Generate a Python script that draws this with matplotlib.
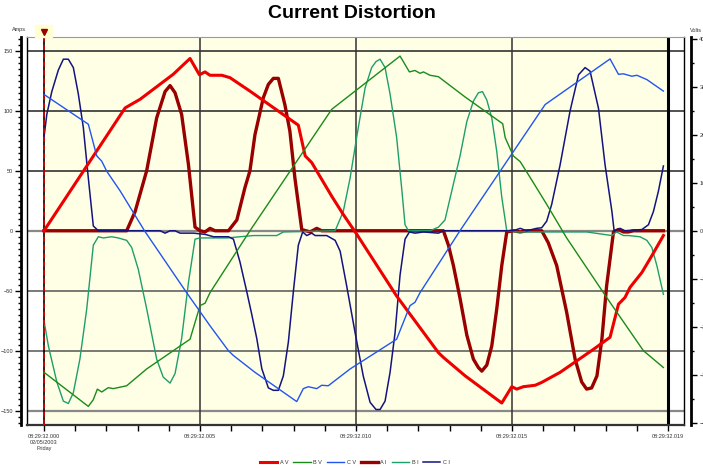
import matplotlib
matplotlib.use("Agg")
import matplotlib.pyplot as plt
import matplotlib.transforms as mtransforms
from matplotlib.patches import Rectangle

plt.rcParams["font.family"] = ["Liberation Sans", "DejaVu Sans"]

# time in ms after 08:29:32.000, voltages in volts (right axis)
t_av = [0, 1.26, 2.60, 3.08, 4.14, 4.68, 4.98, 5.16, 5.32, 5.70, 5.96, 6.60, 8.15, 8.37, 8.58, 8.90,
        9.22, 9.59, 10.02, 11.30, 12.64, 12.80, 13.49, 14.67, 14.99, 15.15, 15.36, 15.74, 15.95,
        16.54, 17.61, 18.14, 18.41, 18.62, 18.78, 19.16, 19.48, 19.85]
v_av = [0, 124, 256, 274, 326, 359, 325, 331, 324, 324, 319, 291, 220, 156, 142, 107,
        72, 34, -7, -136, -254, -264, -302, -359, -325, -330, -325, -322, -316,
        -295, -247, -222, -153, -139, -118, -87, -52, -10]

t_bv = [0, 1.42, 1.58, 1.71, 1.85, 2.06, 2.22, 2.65, 3.29, 4.68, 5.00, 5.16, 5.32, 6.60, 9.22,
        11.41, 11.71, 11.89, 12.05, 12.16, 12.37, 12.64, 13.49, 14.70, 14.78, 15.04, 15.26,
        15.58, 16.11, 16.75, 18.03, 19.21, 19.85]
v_bv = [-295, -366, -352, -330, -336, -327, -329, -323, -288, -226, -156, -151, -129, 0, 253,
        364, 331, 334, 328, 331, 324, 321, 279, 223, 194, 156, 144,
        111, 55, -15, -139, -250, -285]

t_cv = [0, 1.42, 1.69, 1.85, 2.01, 2.44, 3.22, 4.57, 5.32, 5.91, 6.07, 6.76, 8.10, 8.31, 8.47,
        8.74, 8.90, 9.11, 9.81, 11.30, 11.73, 11.89, 12.05, 13.33, 16.06, 18.14, 18.41, 18.57,
        18.84, 19.00, 19.32, 19.85]
v_cv = [284, 222, 156, 145, 124, 83, 0, -129, -198, -250, -260, -295, -356, -329, -325,
        -329, -322, -323, -288, -226, -156, -149, -129, 0, 263, 358, 326, 327,
        322, 324, 315, 291]

# currents in amps (left axis)
t_ai = [0, 2.65, 2.92, 3.29, 3.61, 3.88, 4.04, 4.20, 4.41, 4.63, 4.84, 5.00, 5.16, 5.32, 5.48,
        5.91, 6.18, 6.44, 6.60, 6.76, 7.03, 7.19, 7.35, 7.51, 7.72, 7.88, 8.04, 8.26, 8.53, 8.74,
        8.90, 12.80, 12.96, 13.12, 13.33, 13.55, 13.76, 13.92, 14.03, 14.19, 14.35, 14.51, 14.67,
        14.83, 15.04, 15.26, 15.47, 15.95, 16.16, 16.43, 16.75, 17.02, 17.23, 17.39, 17.55, 17.72,
        17.88, 18.03, 18.25, 18.41, 18.57, 18.73, 18.89, 19.85]
i_ai = [0, 0, 16, 50, 94, 116, 121, 115, 97, 55, 3, 0, -1, 2, 0,
        0, 9, 36, 50, 80, 111, 122, 127, 127, 105, 83, 44, 1, -1, 2,
        0, 0, -12, -29, -56, -87, -107, -114, -117, -112, -96, -65, -29,
        -1, 0, -1, 0, 0, -10, -29, -68, -107, -126, -132, -131, -121,
        -90, -46, -1, 1, -1, -1, 0, 0]

t_bi = [0, 0.14, 0.41, 0.62, 0.78, 0.94, 1.15, 1.37, 1.58, 1.74, 1.90, 2.17, 2.38, 2.65, 2.81,
        3.02, 3.29, 3.61, 3.82, 4.04, 4.20, 4.41, 4.63, 4.84, 5.00, 5.21, 5.43, 5.86, 6.71, 7.46,
        7.67, 9.33, 9.59, 9.81, 10.02, 10.29, 10.50, 10.64, 10.77, 10.93, 11.09, 11.30, 11.46,
        11.57, 11.68, 12.37, 12.64, 12.85, 13.12, 13.33, 13.55, 13.76, 13.92, 14.05, 14.19, 14.35,
        14.51, 14.67, 14.83, 15.15, 17.39, 18.20, 18.35, 18.57, 18.73, 19.10, 19.32, 19.48,
        19.64, 19.85]
i_bi = [-75, -96, -126, -142, -144, -135, -107, -65, -12, -5, -6, -5, -6, -8, -14,
        -32, -65, -107, -122, -127, -119, -90, -43, -7, -6, -6, -6, -6, -4, -4,
        -1, 0, 16, 44, 78, 119, 136, 141, 143, 136, 114, 78, 36,
        5, 0, 0, 3, 9, 39, 62, 91, 108, 115, 116, 109, 94,
        66, 28, 0, -1, -1, -4, -1, -4, -4, -5, -8, -14,
        -29, -53]

t_ci = [0, 0.09, 0.25, 0.46, 0.62, 0.78, 0.94, 1.10, 1.26, 1.42, 1.58, 1.74, 3.72, 3.88, 4.04,
        4.20, 4.36, 4.79, 5.16, 5.43, 5.91, 6.07, 6.28, 6.50, 6.66, 6.82, 6.98, 7.19, 7.35, 7.51,
        7.67, 7.83, 7.99, 8.15, 8.29, 8.42, 8.58, 8.69, 9.06, 9.33, 9.49, 9.70, 9.97, 10.23, 10.45,
        10.64, 10.77, 10.93, 11.09, 11.25, 11.41, 11.57, 11.71, 11.89, 12.16, 12.64, 12.80, 15.04,
        15.26, 15.47, 15.79, 15.95, 16.11, 16.27, 16.54, 16.86, 17.13, 17.34, 17.50, 17.77, 17.98,
        18.20, 18.27, 18.46, 18.62, 19.16, 19.37, 19.53, 19.69, 19.85]
i_ci = [78, 97, 116, 134, 143, 143, 136, 114, 86, 44, 4, 0, 0, -2, 0,
        0, -2, -2, -3, -5, -5, -7, -26, -51, -70, -90, -115, -131, -133, -133,
        -121, -93, -51, -12, -1, -4, -2, -4, -4, -8, -17, -46, -85, -121, -143,
        -149, -149, -142, -118, -85, -37, -7, -1, -2, -1, -2, 0, 0,
        2, 0, 2, 2.5, 8, 22, 55, 100, 130, 136, 133, 102, 55,
        16, 0, 2, 0, 1, 5, 16, 33, 54]

x_ticks = [0, 5, 10, 15, 20]
x_labels = ["08:29:32.000\n02/05/2003\nFriday", "08:29:32.005", "08:29:32.010",
            "08:29:32.015", "08:29:32.019"]

fig = plt.figure(figsize=(7.03, 4.68), dpi=100)
ax = fig.add_axes([27 / 703, 43.5 / 468, 657 / 703, 387.5 / 468])
ax2 = ax.twinx()

ax.set_xlim(-0.545, 20.51)
ax.set_ylim(-161.5, 161.5)
ax2.set_ylim(-403.75, 403.75)

ax.axvspan(0, 20, color="#FFFFE6", zorder=0)

# grid
for yv, c in [(150, "#222222"), (100, "#222222"), (50, "#222222"), (0, "#888888"),
              (-50, "#555555"), (-100, "#555555"), (-150, "#888888")]:
    ax.axhline(yv, color=c, lw=1.1 if yv not in (0, -150) else 1.6, zorder=1)
for xv in [5, 10, 15]:
    ax.axvline(xv, color="#333333", lw=1.1, zorder=1)
ax.axvline(20, color="black", lw=2.2, zorder=1)
ax.axvline(0, color="black", lw=1.2, zorder=1)
ax.axvline(0, color="#E00000", lw=1.2, ls=(0, (3, 2)), zorder=5)

# currents
l_ai, = ax.plot(t_ai, i_ai, color="#990000", lw=2.4, label="A I", zorder=3)
l_bi, = ax.plot(t_bi, i_bi, color="#1E9E6A", lw=1.0, label="B I", zorder=3)
l_ci, = ax.plot(t_ci, i_ci, color="#141480", lw=1.1, label="C I", zorder=3)

# voltages
l_av, = ax2.plot(t_av, v_av, color="#EE0000", lw=2.2, label="A V", zorder=3)
l_bv, = ax2.plot(t_bv, v_bv, color="#1A8A1A", lw=1.0, label="B V", zorder=3)
l_cv, = ax2.plot(t_cv, v_cv, color="#2255EE", lw=1.0, label="C V", zorder=3)

# spines
ax.spines["left"].set_position(("outward", 4))
ax.spines["left"].set_linewidth(2)
ax.spines["right"].set_linewidth(1)
ax.spines["top"].set_color("#999999")
ax.spines["bottom"].set_linewidth(1.6)
ax.spines["bottom"].set_color("#333333")
ax.plot([0, 0], [0, 1], transform=ax.transAxes, color="black", lw=1, clip_on=False)
for s in ["left", "top", "bottom"]:
    ax2.spines[s].set_visible(False)
ax2.spines["right"].set_position(("outward", 5))
ax2.spines["right"].set_linewidth(2)

ax.set_yticks([-150, -100, -50, 0, 50, 100, 150])
ax.set_yticks(range(-160, 161, 5), minor=True)
ax2.set_yticks([-400, -300, -200, -100, 0, 100, 200, 300, 400])
ax2.set_yticks(range(-400, 401, 50), minor=True)
ax.set_xticks(x_ticks)
ax.set_xticklabels(x_labels)
ax.set_xticks(range(0, 21), minor=True)

ax.tick_params(axis="both", which="major", labelsize=4, length=4, width=1, colors="black",
               labelcolor="#333333", pad=2)
ax.tick_params(axis="both", which="minor", length=2.5, width=1)
ax.tick_params(axis="x", which="both", length=4, pad=3)
ax2.tick_params(axis="y", which="major", labelsize=4, length=4, width=1, labelcolor="#333333", pad=2)
ax2.tick_params(axis="y", which="minor", length=2.5, width=1)

# cursor marker
blend = mtransforms.blended_transform_factory(ax.transData, ax.transAxes)
ax.add_patch(Rectangle((-0.3, 1.0), 0.55, 0.03, transform=blend, color="#FFFFD0",
                       clip_on=False, zorder=6))
ax.plot([0], [1.014], marker="v", ms=5, color="#990000", transform=blend, clip_on=False, zorder=7)

fig.text(0.5, 1 - 14 / 468, "Current Distortion", ha="center", va="center",
         fontsize=14, fontweight="bold")
fig.text(12 / 703, 1 - 30 / 468, "Amps", fontsize=4, color="#333333", va="center")
fig.text(690 / 703, 1 - 30 / 468, "Volts", fontsize=4, color="#333333", va="center")

fig.legend(handles=[l_av, l_bv, l_cv, l_ai, l_bi, l_ci], loc="center",
           bbox_to_anchor=(355 / 703, 1 - 462 / 468), ncol=6, frameon=False, fontsize=4,
           handlelength=3.1, columnspacing=0.9, handletextpad=0.45, labelcolor="#333333")

fig.savefig("out.png", dpi=100)
